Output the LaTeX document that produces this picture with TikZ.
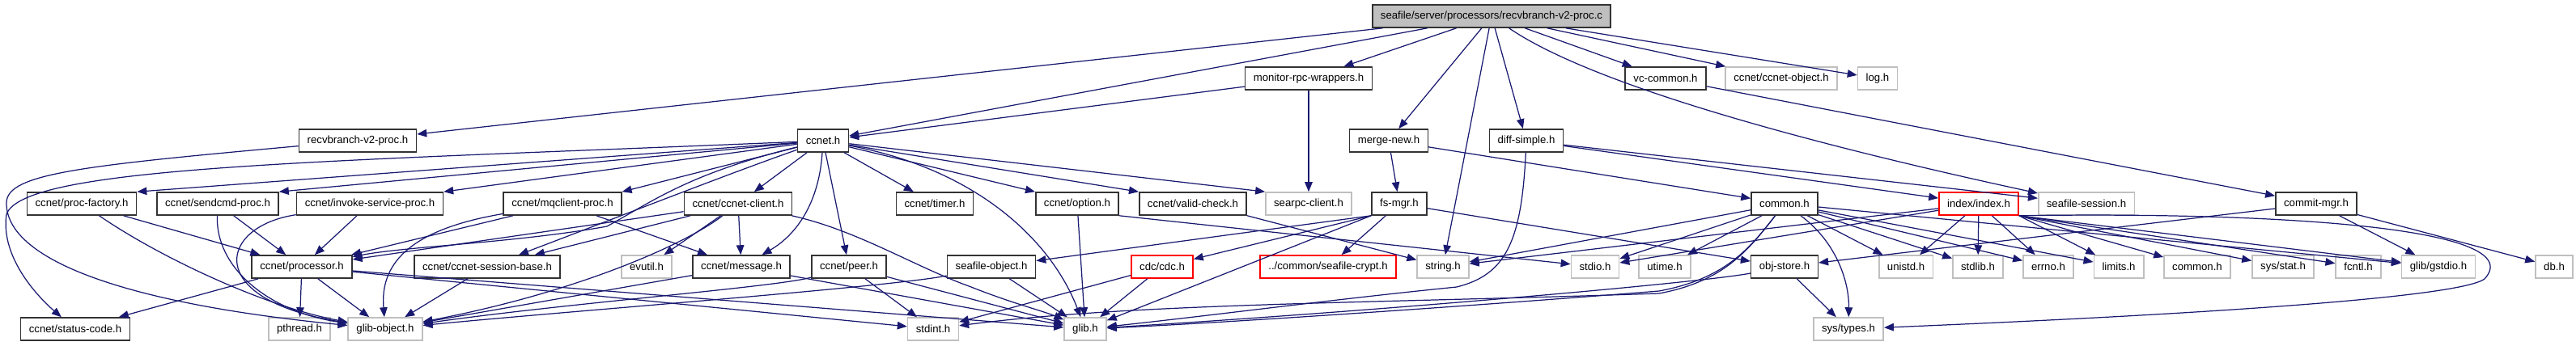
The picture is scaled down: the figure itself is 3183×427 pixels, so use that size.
\documentclass[tikz,border=0pt]{standalone}
\usepackage{fontspec}
\setmainfont{Liberation Sans}
\usetikzlibrary{arrows.meta}
\definecolor{edgeblue}{HTML}{191970}
\definecolor{boxgray}{HTML}{BFBFBF}
\definecolor{boxred}{HTML}{FF0000}
\begin{document}
\begin{tikzpicture}[
  x=0.01cm, y=-0.01cm,
  hdrbox/.style={draw=black!80, line width=0.45pt, fill=white, minimum height=0.28cm,
    inner xsep=2.9pt, inner ysep=0pt, font=\fontsize{3.75}{4.5}\selectfont},
  sysbox/.style={hdrbox, draw=boxgray},
  cutbox/.style={hdrbox, draw=boxred},
  srcbox/.style={hdrbox, fill=boxgray},
  dep/.style={-{Triangle[length=3.4pt,width=2.7pt]}, color=edgeblue, line width=0.35pt}
]
\useasboundingbox (0,0) rectangle (3183,427);
\node[srcbox] (recvc) at (1843,20) {seafile/server/processors/recvbranch-v2-proc.c};
\node[hdrbox] (monitor) at (1617,97) {monitor-rpc-wrappers.h};
\node[hdrbox] (vccommon) at (2058,97) {vc-common.h};
\node[sysbox] (ccnetobj) at (2201,97) {ccnet/ccnet-object.h};
\node[sysbox] (logh) at (2320,97) {log.h};
\node[hdrbox] (recvh) at (442,174) {recvbranch-v2-proc.h};
\node[hdrbox] (ccneth) at (1017,174) {ccnet.h};
\node[hdrbox] (mergenew) at (1716,174) {merge-new.h};
\node[hdrbox] (diffsimple) at (1886,174) {diff-simple.h};
\node[hdrbox] (procfactory) at (101,252) {ccnet/proc-factory.h};
\node[hdrbox] (sendcmd) at (269,252) {ccnet/sendcmd-proc.h};
\node[hdrbox] (invoke) at (457,252) {ccnet/invoke-service-proc.h};
\node[hdrbox] (mqclient) at (695,252) {ccnet/mqclient-proc.h};
\node[hdrbox] (ccnetclient) at (912,252) {ccnet/ccnet-client.h};
\node[hdrbox] (timer) at (1155,252) {ccnet/timer.h};
\node[hdrbox] (option) at (1331,252) {ccnet/option.h};
\node[hdrbox] (validcheck) at (1474,252) {ccnet/valid-check.h};
\node[sysbox] (searpc) at (1617,252) {searpc-client.h};
\node[hdrbox] (fsmgr) at (1729,252) {fs-mgr.h};
\node[hdrbox] (commonh) at (2205,252) {common.h};
\node[cutbox] (indexh) at (2445,252) {index/index.h};
\node[sysbox] (seafsession) at (2578,252) {seafile-session.h};
\node[hdrbox] (commitmgr) at (2862,252) {commit-mgr.h};
\node[hdrbox] (processor) at (373,330) {ccnet/processor.h};
\node[hdrbox] (sessionbase) at (602,330) {ccnet/ccnet-session-base.h};
\node[sysbox] (evutil) at (799,330) {evutil.h};
\node[hdrbox] (message) at (916,330) {ccnet/message.h};
\node[hdrbox] (peer) at (1049,330) {ccnet/peer.h};
\node[hdrbox] (seafobject) at (1225,330) {seafile-object.h};
\node[cutbox] (cdc) at (1436,330) {cdc/cdc.h};
\node[cutbox] (crypt) at (1641,330) {../common/seafile-crypt.h};
\node[sysbox] (stringh) at (1783,330) {string.h};
\node[sysbox] (stdioh) at (1971,330) {stdio.h};
\node[sysbox] (utimeh) at (2057,330) {utime.h};
\node[hdrbox] (objstore) at (2205,330) {obj-store.h};
\node[sysbox] (unistdh) at (2355,330) {unistd.h};
\node[sysbox] (stdlibh) at (2444,330) {stdlib.h};
\node[sysbox] (errnoh) at (2531,330) {errno.h};
\node[sysbox] (limitsh) at (2618,330) {limits.h};
\node[sysbox] (commonsys) at (2715,330) {common.h};
\node[sysbox] (sysstat) at (2821,330) {sys/stat.h};
\node[sysbox] (fcntlh) at (2914,330) {fcntl.h};
\node[sysbox] (gstdio) at (3013,330) {glib/gstdio.h};
\node[sysbox] (dbh) at (3156,330) {db.h};
\node[hdrbox] (statuscode) at (93,407) {ccnet/status-code.h};
\node[sysbox] (pthreadh) at (370,407) {pthread.h};
\node[sysbox] (glibobject) at (476,407) {glib-object.h};
\node[sysbox] (stdinth) at (1153,407) {stdint.h};
\node[sysbox] (glibh) at (1341,407) {glib.h};
\node[sysbox] (systypes) at (2284,407) {sys/types.h};
\draw[dep] (recvc) -- (recvh);
\draw[dep] (recvc) -- (ccneth);
\draw[dep] (recvc) -- (monitor);
\draw[dep] (recvc) -- (mergenew);
\draw[dep] (recvc) -- (stringh);
\draw[dep] (recvc) -- (diffsimple);
\draw[dep] (recvc) .. controls (1960,100) and (2200,170) .. (seafsession);
\draw[dep] (recvc) -- (vccommon);
\draw[dep] (recvc) -- (ccnetobj);
\draw[dep] (recvc) -- (logh);
\draw[dep] (monitor) -- (ccneth);
\draw[dep] (monitor) -- (searpc);
\draw[dep] (vccommon) -- (commitmgr);
\draw[dep] (recvh) .. controls (100,205) and (10,215) .. (8,250) .. controls (6,320) and (150,375) .. (glibobject);
\draw[dep] (ccneth) -- (procfactory.north east);
\draw[dep] (ccneth) -- (sendcmd.north east);
\draw[dep] (ccneth) -- (invoke.north east);
\draw[dep] (ccneth) -- (mqclient.north east);
\draw[dep] (ccneth) -- (ccnetclient);
\draw[dep] (ccneth) -- (timer);
\draw[dep] (ccneth) -- (option.north west);
\draw[dep] (ccneth) -- (validcheck.north west);
\draw[dep] (ccneth) -- (searpc.north west);
\draw[dep] (ccneth) -- (peer);
\draw[dep] (ccneth) .. controls (1012,250) and (985,290) .. (message);
\draw[dep] (ccneth) .. controls (1210,210) and (1300,300) .. (glibh);
\draw[dep] (ccneth) .. controls (400,200) and (30,205) .. (8,265) .. controls (0,320) and (50,370) .. (statuscode);
\draw[dep] (ccneth) .. controls (850,215) and (805,250) .. (750,280) .. controls (640,300) and (500,305) .. (processor);
\draw[dep] (ccneth) .. controls (900,215) and (760,270) .. (sessionbase);
\draw[dep] (mergenew) -- (fsmgr);
\draw[dep] (mergenew) -- (commonh);
\draw[dep] (diffsimple) -- (indexh);
\draw[dep] (diffsimple) -- (seafsession);
\draw[dep] (diffsimple) .. controls (1880,300) and (1860,340) .. (1800,355) .. controls (1650,370) and (1500,390) .. (glibh);
\draw[dep] (procfactory) -- (processor);
\draw[dep] (procfactory) .. controls (200,320) and (330,380) .. (glibobject);
\draw[dep] (sendcmd) -- (processor);
\draw[dep] (sendcmd) .. controls (266,330) and (330,385) .. (glibobject);
\draw[dep] (invoke) -- (processor);
\draw[dep] (invoke) .. controls (270,280) and (250,370) .. (glibobject);
\draw[dep] (mqclient) -- (processor);
\draw[dep] (mqclient) -- (message);
\draw[dep] (mqclient) .. controls (500,285) and (470,330) .. (glibobject);
\draw[dep] (ccnetclient) -- (processor);
\draw[dep] (ccnetclient) -- (sessionbase);
\draw[dep] (ccnetclient) -- (evutil);
\draw[dep] (ccnetclient) -- (message);
\draw[dep] (ccnetclient) .. controls (850,300) and (720,360) .. (glibobject);
\draw[dep] (ccnetclient) .. controls (1060,285) and (1130,330) .. (1200,355) .. controls (1250,375) and (1290,385) .. (glibh);
\draw[dep] (option) -- (glibh);
\draw[dep] (option.south east) -- (stdioh);
\draw[dep] (validcheck.south east) -- (stringh);
\draw[dep] (fsmgr.south west) -- (seafobject);
\draw[dep] (fsmgr.south west) -- (cdc);
\draw[dep] (fsmgr) -- (crypt);
\draw[dep] (fsmgr.south west) -- (glibh);
\draw[dep] (fsmgr) -- (objstore);
\draw[dep] (commonh) -- (stringh);
\draw[dep] (commonh) -- (stdioh);
\draw[dep] (commonh) -- (utimeh);
\draw[dep] (commonh) -- (unistdh);
\draw[dep] (commonh) -- (stdlibh);
\draw[dep] (commonh) -- (errnoh);
\draw[dep] (commonh) -- (limitsh);
\draw[dep] (commonh) -- (gstdio);
\draw[dep] (commonh) .. controls (2270,300) and (2285,350) .. (systypes);
\draw[dep] (commonh) .. controls (2160,310) and (2130,345) .. (2050,360) .. controls (1800,380) and (1500,400) .. (glibh);
\draw[dep] (commonh) .. controls (2160,310) and (2130,348) .. (2050,363) .. controls (1700,375) and (1400,375) .. (stdinth);
\draw[dep] (indexh) -- (stringh);
\draw[dep] (indexh) -- (stdioh);
\draw[dep] (indexh) -- (unistdh);
\draw[dep] (indexh) -- (stdlibh);
\draw[dep] (indexh) -- (errnoh);
\draw[dep] (indexh.south east) -- (limitsh);
\draw[dep] (indexh.south east) -- (commonsys);
\draw[dep] (indexh.south east) -- (sysstat);
\draw[dep] (indexh.south east) -- (fcntlh);
\draw[dep] (indexh.south east) -- (gstdio);
\draw[dep] (indexh.south east) .. controls (2800,262) and (3130,280) .. (3070,345) .. controls (3030,375) and (2500,398) .. (systypes);
\draw[dep] (commitmgr) -- (objstore);
\draw[dep] (commitmgr) -- (gstdio);
\draw[dep] (commitmgr) -- (dbh);
\draw[dep] (objstore) -- (systypes);
\draw[dep] (objstore) .. controls (2100,350) and (1700,385) .. (glibh);
\draw[dep] (processor) -- (statuscode);
\draw[dep] (processor) -- (pthreadh);
\draw[dep] (processor) -- (glibobject);
\draw[dep] (processor) -- (stdinth);
\draw[dep] (processor) -- (glibh);
\draw[dep] (sessionbase) -- (glibobject);
\draw[dep] (message) -- (glibobject);
\draw[dep] (message) -- (glibh);
\draw[dep] (peer) .. controls (960,355) and (700,375) .. (glibobject);
\draw[dep] (peer) -- (stdinth);
\draw[dep] (peer) -- (glibh);
\draw[dep] (seafobject) .. controls (1100,355) and (700,385) .. (glibobject);
\draw[dep] (seafobject) -- (glibh);
\draw[dep] (cdc) -- (stdinth);
\draw[dep] (cdc) -- (glibh);
\end{tikzpicture}
\end{document}
